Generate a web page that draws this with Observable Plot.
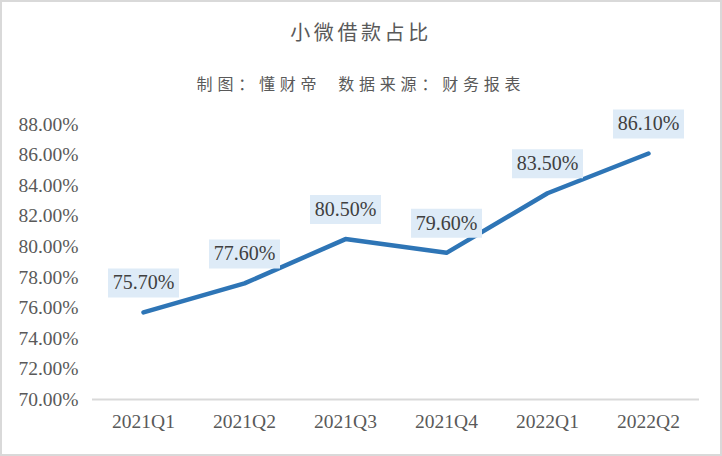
<!DOCTYPE html>
<html>
<head>
<meta charset="utf-8">
<script src="https://cdn.jsdelivr.net/npm/d3@7"></script>
<script src="https://cdn.jsdelivr.net/npm/@observablehq/plot@0.6"></script>
<style>
  html, body { margin: 0; padding: 0; background: #fff; }
  #wrap { position: relative; width: 722px; height: 456px; overflow: hidden; background: #fff; }
  #frame { position: absolute; left: 0; top: 0; right: 0; bottom: 0; border: 2px solid #d9d9d9; box-sizing: border-box; pointer-events: none; }
  #title { position: absolute; left: 0; width: 722px; top: 18px; text-align: center; font-family: "Noto Sans CJK SC", sans-serif; font-size: 20px; line-height: 28px; color: #595959; letter-spacing: 3.6px; }
  #subtitle { position: absolute; left: 0; width: 722px; top: 71px; text-align: center; font-family: "Noto Sans CJK SC", sans-serif; font-size: 16px; line-height: 24px; color: #595959; letter-spacing: 4.8px; white-space: pre; }
  #chart { position: absolute; left: 0; top: 100px; }
</style>
</head>
<body>
<div id="wrap">
  <div id="title">小微借款占比</div>
  <div id="subtitle">制图：懂财帝  数据来源：财务报表</div>
  <div id="chart"></div>
  <div id="frame"></div>
</div>
<script>
const quarters = ["2021Q1", "2021Q2", "2021Q3", "2021Q4", "2022Q1", "2022Q2"];
const shares = [75.7, 77.6, 80.5, 79.6, 83.5, 86.1];
const yTicks = [70, 72, 74, 76, 78, 80, 82, 84, 86, 88];

const data = quarters.map((q, i) => ({q, v: shares[i]}));
const boxSymbol = { draw(ctx) { ctx.rect(-35.5, -14.5, 71, 29); } };

const plot = Plot.plot({
  width: 722,
  height: 340,
  marginLeft: 92,
  marginRight: 23,
  marginTop: 24,
  marginBottom: 41,
  style: { fontFamily: "'Liberation Serif', serif", fontSize: "19.5px", color: "#595959", background: "transparent" },
  x: { type: "point", domain: quarters, padding: 0.5, label: null },
  y: { domain: [70, 88], ticks: yTicks, label: null },
  marks: [
    Plot.axisY({ ticks: yTicks, tickSize: 0, tickPadding: 14, tickFormat: d => d.toFixed(2) + "%", fill: "#595959", label: null }),
    Plot.axisX({ tickSize: 0, tickPadding: 15, fill: "#595959", label: null }),
    Plot.ruleY([70], { stroke: "#d9d9d9", strokeWidth: 2 }),
    Plot.line(data, { x: "q", y: "v", stroke: "#2e75b6", strokeWidth: 4.5, strokeLinecap: "round", strokeLinejoin: "round" }),
    Plot.dot(data, { x: "q", y: "v", symbol: boxSymbol, r: 10, fill: "#deebf7", stroke: "none", dy: -29.5 }),
    Plot.text(data, { x: "q", y: "v", text: d => d.v.toFixed(2) + "%", dy: -29.5, fill: "#404040", fontSize: 20 })
  ]
});
document.getElementById("chart").appendChild(plot);
</script>
</body>
</html>
